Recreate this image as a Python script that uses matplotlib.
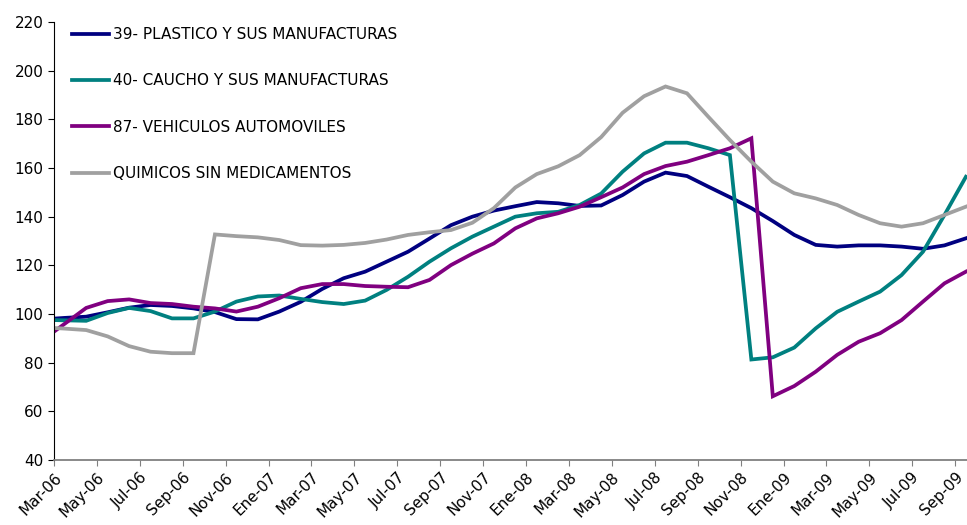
import matplotlib.pyplot as plt
import numpy as np

# monthly index values, Feb-06 .. Sep-09 (Feb-06 sits just left of the axis)
plastico = [97.8, 98.4, 98.9, 100.7, 102.6, 103.7, 103.3, 102.3, 100.8, 97.9,
            97.8, 101.0, 105.0, 110.3, 114.7, 117.4, 121.5, 125.6, 131.0, 136.5,
            140.0, 142.5, 144.3, 146.0, 145.5, 144.4, 144.6, 148.9, 154.4, 158.1,
            156.7, 152.3, 148.0, 143.5, 138.2, 132.5, 128.4, 127.7, 128.2, 128.2,
            127.7, 126.8, 128.2, 131.1]
caucho = [97.6, 97.4, 97.2, 100.4, 102.5, 101.2, 98.2, 98.2, 101.0, 105.1,
          107.2, 107.6, 106.2, 104.9, 104.1, 105.5, 109.9, 115.3, 121.5, 127.0,
          131.8, 135.9, 140.0, 141.4, 142.0, 144.8, 149.5, 158.5, 166.0, 170.4,
          170.4, 168.1, 165.3, 81.3, 82.2, 86.2, 94.1, 100.9, 105.1, 109.2,
          116.0, 125.6, 140.7, 156.4]
vehiculos = [89.5, 96.0, 102.5, 105.3, 106.0, 104.5, 104.1, 103.0, 102.3, 101.0,
             103.0, 106.5, 110.6, 112.3, 112.3, 111.5, 111.2, 111.0, 114.0, 120.1,
             124.8, 129.0, 135.2, 139.3, 141.4, 144.1, 148.0, 152.0, 157.5, 160.8,
             162.6, 165.3, 168.1, 172.2, 66.2, 70.4, 76.3, 83.2, 88.6, 92.1,
             97.5, 105.1, 112.6, 117.4]
quimicos = [94.5, 94.0, 93.4, 90.8, 86.8, 84.5, 83.9, 83.9, 132.7, 132.0,
            131.5, 130.4, 128.3, 128.1, 128.4, 129.2, 130.6, 132.5, 133.6, 134.5,
            137.5, 143.5, 152.0, 157.5, 160.7, 165.3, 172.7, 182.7, 189.5, 193.5,
            190.7, 181.0, 171.5, 162.6, 154.4, 149.6, 147.5, 144.8, 140.7, 137.3,
            135.9, 137.3, 140.7, 144.1]

labels = ['39- PLASTICO Y SUS MANUFACTURAS', '40- CAUCHO Y SUS MANUFACTURAS',
          '87- VEHICULOS AUTOMOVILES', 'QUIMICOS SIN MEDICAMENTOS']
colors = ['#000080', '#008080', '#800080', '#A0A0A0']

tick_labels = ['Mar-06', 'May-06', 'Jul-06', 'Sep-06', 'Nov-06', 'Ene-07', 'Mar-07',
               'May-07', 'Jul-07', 'Sep-07', 'Nov-07', 'Ene-08', 'Mar-08', 'May-08',
               'Jul-08', 'Sep-08', 'Nov-08', 'Ene-09', 'Mar-09', 'May-09', 'Jul-09',
               'Sep-09']

x = np.arange(len(plastico)) - 0.5

fig = plt.figure(figsize=(9.67, 5.25), dpi=100)
ax = fig.add_axes([54/967, 1-460/525, 1-54/967, (460-22)/525])

series = [plastico, caucho, vehiculos, quimicos]
for s, lab, c in zip(series, labels, colors):
    ax.plot(x, s, color=c, lw=2.7, label=lab, solid_joinstyle='miter')

ax.set_xlim(0, 42.55)
ax.set_ylim(40, 220)
ax.set_yticks(range(40, 221, 20))
ax.set_xticks(np.arange(0, 43, 2))
ax.set_xticklabels(tick_labels, rotation=45, ha='right', rotation_mode='anchor')

ax.spines['top'].set_visible(False)
ax.spines['right'].set_visible(False)
ax.spines['bottom'].set_color('#808080')
ax.spines['bottom'].set_linewidth(1.3)
ax.tick_params(axis='both', labelsize=11, length=4, direction='out')
ax.tick_params(axis='x', colors='#808080', labelcolor='black', pad=3)

leg = ax.legend(loc='upper left', bbox_to_anchor=(0.005, 1.02), frameon=False,
                fontsize=11, labelspacing=2.05, handlelength=2.4,
                handletextpad=0.25)

fig.savefig('out.png', dpi=100)
